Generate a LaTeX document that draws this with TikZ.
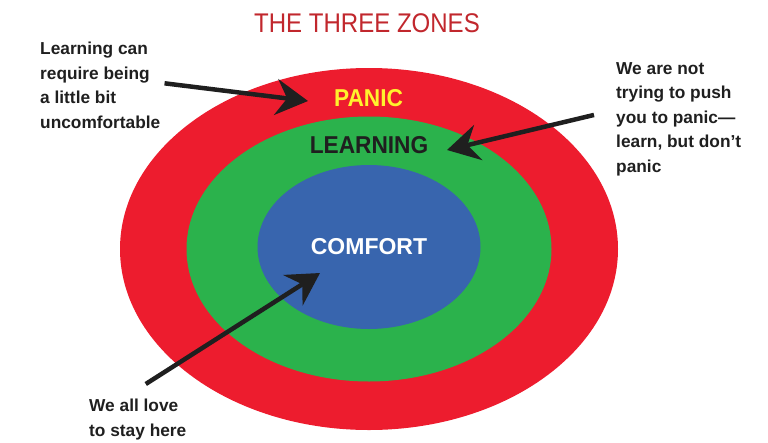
\documentclass[tikz,border=0pt]{standalone}
\usepackage{fontspec}
\setmainfont{Liberation Sans}
\newfontfamily\titlefont[FakeStretch=0.89]{Liberation Sans}
\newfontfamily\zonefont[FakeStretch=0.93]{Liberation Sans}
\usetikzlibrary{arrows.meta,shapes.geometric}

\definecolor{panic red}{HTML}{ED1C2E}
\definecolor{learn green}{HTML}{2BB24C}
\definecolor{comfort blue}{HTML}{3865AE}
\definecolor{panic yellow}{HTML}{FFF22D}
\definecolor{title red}{HTML}{C1272D}
\colorlet{ink}{black!88}

\def\zones{{panic red/369/249/498/362/panic}, {learn green/369/249/365/265/learning}, {comfort blue/369/247/223/164/comfort}}
\tikzset{
  zone/.style={ellipse, inner sep=0pt, draw=none},
  zone label/.style={inner sep=0pt, font=\zonefont\bfseries\fontsize{24.4}{28}\selectfont}
  }
\tikzstyle{note} = [align=left, text=ink, inner sep=0pt, font=\bfseries\fontsize{17.3}{24.5}\selectfont]
\tikzstyle{pointer} = [draw=ink, line width=4.5pt, -{Stealth[length=32pt,width=36pt,inset=11pt]}]

\begin{document}
\begin{tikzpicture}[x=1pt, y=-1pt]
  \useasboundingbox (0,0) rectangle (768,442);

  % The three zones, outer one first
  \foreach \col/\cx/\cy/\w/\h/\name in \zones {
    \node[zone, fill=\col, minimum width=\w pt, minimum height=\h pt] (\name) at (\cx,\cy) {};
  }

  % Title and zone labels
  \node[inner sep=0pt, text=title red, font=\titlefont\fontsize{27}{30}\selectfont] (title) at (367,23) {THE THREE ZONES};
  \node[zone label, text=panic yellow] (panic label) at (368.5,98) {PANIC};
  \node[zone label, text=ink] (learning label) at (369,145.5) {LEARNING};
  \node[zone label, text=white, font=\bfseries\fontsize{23}{28}\selectfont] (comfort label) at (369,246.5) {COMFORT};

  % The notes
  \node[note, anchor=north west] (learnnote) at (40,42) {Learning can\\require being\\a little bit\\uncomfortable};
  \node[note, anchor=north west] (pushnote) at (616,62) {We are not\\trying to push\\you to panic---\\learn, but don't\\panic};
  \node[note, anchor=north west] (staynote) at (89,399) {We all love\\to stay here};

  % Where the arrows start and end
  \coordinate (learn tail) at ([xshift=4pt,yshift=2pt]learnnote.east);
  \coordinate (push tail) at ([xshift=-22pt,yshift=4pt]pushnote.west);
  \coordinate (stay tail) at ([xshift=8pt,yshift=15pt]staynote.north);
  \coordinate (panic tip) at (308,101);
  \coordinate (learning tip) at (447,150);
  \coordinate (comfort tip) at (320,273);

  \foreach \source/\sink in {learn tail/panic tip, push tail/learning tip, stay tail/comfort tip}
    \path[pointer] (\source) -- (\sink);

\end{tikzpicture}
\end{document}
